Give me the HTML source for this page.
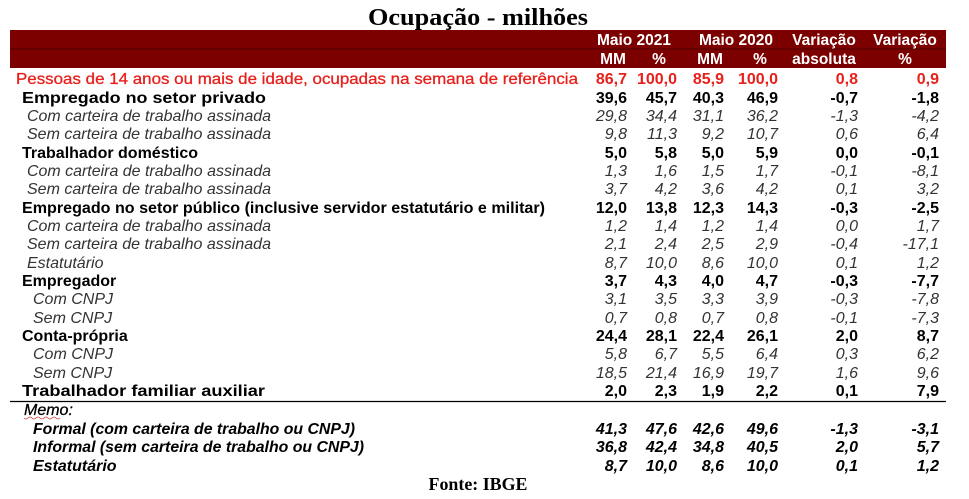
<!DOCTYPE html>
<html><head><meta charset="utf-8"><style>
html,body{margin:0;padding:0;background:#fff;}
svg{display:block;font-family:"Liberation Sans",Arial,sans-serif;font-size:16px;}
.b{font-weight:bold}.i{font-style:italic;fill:#333}.bi{font-weight:bold;font-style:italic}.r{fill:#e8201c;font-weight:bold}
.h{fill:#fff;font-weight:bold;font-size:15.5px}
.n text{text-anchor:end}
</style></head><body>
<svg width="969" height="499" viewBox="0 0 969 499">
<text x="478" y="25" text-anchor="middle" style="font-family:'Liberation Serif',serif;font-weight:bold;font-size:24px" textLength="220" lengthAdjust="spacingAndGlyphs">Ocupação - milhões</text>
<rect x="10" y="30" width="936" height="38" fill="#7d0000"/>
<line x1="10" y1="49" x2="946" y2="49" stroke="#4a0000" stroke-width="1"/>
<g class="h" text-anchor="middle">
<text x="634" y="45">Maio 2021</text><text x="736" y="45">Maio 2020</text><text x="824" y="45">Variação</text><text x="905" y="45">Variação</text>
<text x="613" y="64">MM</text><text x="659" y="64">%</text><text x="710" y="64">MM</text><text x="760" y="64">%</text><text x="824" y="64">absoluta</text><text x="905" y="64">%</text>
</g>
<text class="r" x="16" y="84" textLength="562" lengthAdjust="spacingAndGlyphs" style="font-weight:normal;font-size:16px;fill:#e8201c;stroke:#e8201c;stroke-width:0.3">Pessoas de 14 anos ou mais de idade, ocupadas na semana de referência</text>
<text class="b" x="22" y="103" textLength="244" lengthAdjust="spacingAndGlyphs">Empregado no setor privado</text>
<text class="i" x="27" y="121" textLength="244" lengthAdjust="spacingAndGlyphs">Com carteira de trabalho assinada</text>
<text class="i" x="27" y="139" textLength="244" lengthAdjust="spacingAndGlyphs">Sem carteira de trabalho assinada</text>
<text class="b" x="22" y="158">Trabalhador doméstico</text>
<text class="i" x="27" y="176" textLength="244" lengthAdjust="spacingAndGlyphs">Com carteira de trabalho assinada</text>
<text class="i" x="27" y="194" textLength="244" lengthAdjust="spacingAndGlyphs">Sem carteira de trabalho assinada</text>
<text class="b" x="22" y="213" textLength="523" lengthAdjust="spacingAndGlyphs">Empregado no setor público (inclusive servidor estatutário e militar)</text>
<text class="i" x="27" y="231" textLength="244" lengthAdjust="spacingAndGlyphs">Com carteira de trabalho assinada</text>
<text class="i" x="27" y="249" textLength="244" lengthAdjust="spacingAndGlyphs">Sem carteira de trabalho assinada</text>
<text class="i" x="27" y="268">Estatutário</text>
<text class="b" x="22" y="286">Empregador</text>
<text class="i" x="33" y="304">Com CNPJ</text>
<text class="i" x="33" y="323">Sem CNPJ</text>
<text class="b" x="22" y="341">Conta-própria</text>
<text class="i" x="33" y="359">Com CNPJ</text>
<text class="i" x="33" y="378">Sem CNPJ</text>
<text class="b" x="22" y="396" textLength="243" lengthAdjust="spacingAndGlyphs">Trabalhador familiar auxiliar</text>
<line x1="10" y1="401.5" x2="946" y2="401.5" stroke="#000" stroke-width="1.2"/>
<text class="bi" x="24" y="415" style="font-weight:normal;stroke:#000;stroke-width:0.3">Memo:</text>
<path d="M24 418 q2 2 4 0 t4 0 t4 0 t4 0 t4 0 t4 0 t4 0 t4 0 t4 0" stroke="#d04040" fill="none" stroke-width="0.8"/>
<text class="bi" x="33" y="434" textLength="322" lengthAdjust="spacingAndGlyphs">Formal (com carteira de trabalho ou CNPJ)</text>
<text class="bi" x="33" y="452" textLength="331" lengthAdjust="spacingAndGlyphs">Informal (sem carteira de trabalho ou CNPJ)</text>
<text class="bi" x="33" y="471">Estatutário</text>
<text x="478" y="490" text-anchor="middle" style="font-family:'Liberation Serif',serif;font-weight:bold;font-size:18px" textLength="99" lengthAdjust="spacingAndGlyphs">Fonte: IBGE</text>
<g class="n">
<g class="r"><text x="627" y="84">86,7</text><text x="677" y="84">100,0</text><text x="724" y="84">85,9</text><text x="778" y="84">100,0</text><text x="858" y="84">0,8</text><text x="939" y="84">0,9</text></g>
<g class="b"><text x="627" y="103">39,6</text><text x="677" y="103">45,7</text><text x="724" y="103">40,3</text><text x="778" y="103">46,9</text><text x="858" y="103">-0,7</text><text x="939" y="103">-1,8</text></g>
<g class="i"><text x="627" y="121">29,8</text><text x="677" y="121">34,4</text><text x="724" y="121">31,1</text><text x="778" y="121">36,2</text><text x="858" y="121">-1,3</text><text x="939" y="121">-4,2</text></g>
<g class="i"><text x="627" y="139">9,8</text><text x="677" y="139">11,3</text><text x="724" y="139">9,2</text><text x="778" y="139">10,7</text><text x="858" y="139">0,6</text><text x="939" y="139">6,4</text></g>
<g class="b"><text x="627" y="158">5,0</text><text x="677" y="158">5,8</text><text x="724" y="158">5,0</text><text x="778" y="158">5,9</text><text x="858" y="158">0,0</text><text x="939" y="158">-0,1</text></g>
<g class="i"><text x="627" y="176">1,3</text><text x="677" y="176">1,6</text><text x="724" y="176">1,5</text><text x="778" y="176">1,7</text><text x="858" y="176">-0,1</text><text x="939" y="176">-8,1</text></g>
<g class="i"><text x="627" y="194">3,7</text><text x="677" y="194">4,2</text><text x="724" y="194">3,6</text><text x="778" y="194">4,2</text><text x="858" y="194">0,1</text><text x="939" y="194">3,2</text></g>
<g class="b"><text x="627" y="213">12,0</text><text x="677" y="213">13,8</text><text x="724" y="213">12,3</text><text x="778" y="213">14,3</text><text x="858" y="213">-0,3</text><text x="939" y="213">-2,5</text></g>
<g class="i"><text x="627" y="231">1,2</text><text x="677" y="231">1,4</text><text x="724" y="231">1,2</text><text x="778" y="231">1,4</text><text x="858" y="231">0,0</text><text x="939" y="231">1,7</text></g>
<g class="i"><text x="627" y="249">2,1</text><text x="677" y="249">2,4</text><text x="724" y="249">2,5</text><text x="778" y="249">2,9</text><text x="858" y="249">-0,4</text><text x="939" y="249">-17,1</text></g>
<g class="i"><text x="627" y="268">8,7</text><text x="677" y="268">10,0</text><text x="724" y="268">8,6</text><text x="778" y="268">10,0</text><text x="858" y="268">0,1</text><text x="939" y="268">1,2</text></g>
<g class="b"><text x="627" y="286">3,7</text><text x="677" y="286">4,3</text><text x="724" y="286">4,0</text><text x="778" y="286">4,7</text><text x="858" y="286">-0,3</text><text x="939" y="286">-7,7</text></g>
<g class="i"><text x="627" y="304">3,1</text><text x="677" y="304">3,5</text><text x="724" y="304">3,3</text><text x="778" y="304">3,9</text><text x="858" y="304">-0,3</text><text x="939" y="304">-7,8</text></g>
<g class="i"><text x="627" y="323">0,7</text><text x="677" y="323">0,8</text><text x="724" y="323">0,7</text><text x="778" y="323">0,8</text><text x="858" y="323">-0,1</text><text x="939" y="323">-7,3</text></g>
<g class="b"><text x="627" y="341">24,4</text><text x="677" y="341">28,1</text><text x="724" y="341">22,4</text><text x="778" y="341">26,1</text><text x="858" y="341">2,0</text><text x="939" y="341">8,7</text></g>
<g class="i"><text x="627" y="359">5,8</text><text x="677" y="359">6,7</text><text x="724" y="359">5,5</text><text x="778" y="359">6,4</text><text x="858" y="359">0,3</text><text x="939" y="359">6,2</text></g>
<g class="i"><text x="627" y="378">18,5</text><text x="677" y="378">21,4</text><text x="724" y="378">16,9</text><text x="778" y="378">19,7</text><text x="858" y="378">1,6</text><text x="939" y="378">9,6</text></g>
<g class="b"><text x="627" y="396">2,0</text><text x="677" y="396">2,3</text><text x="724" y="396">1,9</text><text x="778" y="396">2,2</text><text x="858" y="396">0,1</text><text x="939" y="396">7,9</text></g>
<g class="bi"><text x="627" y="434">41,3</text><text x="677" y="434">47,6</text><text x="724" y="434">42,6</text><text x="778" y="434">49,6</text><text x="858" y="434">-1,3</text><text x="939" y="434">-3,1</text></g>
<g class="bi"><text x="627" y="452">36,8</text><text x="677" y="452">42,4</text><text x="724" y="452">34,8</text><text x="778" y="452">40,5</text><text x="858" y="452">2,0</text><text x="939" y="452">5,7</text></g>
<g class="bi"><text x="627" y="471">8,7</text><text x="677" y="471">10,0</text><text x="724" y="471">8,6</text><text x="778" y="471">10,0</text><text x="858" y="471">0,1</text><text x="939" y="471">1,2</text></g>
</g>
</svg>
</body></html>
